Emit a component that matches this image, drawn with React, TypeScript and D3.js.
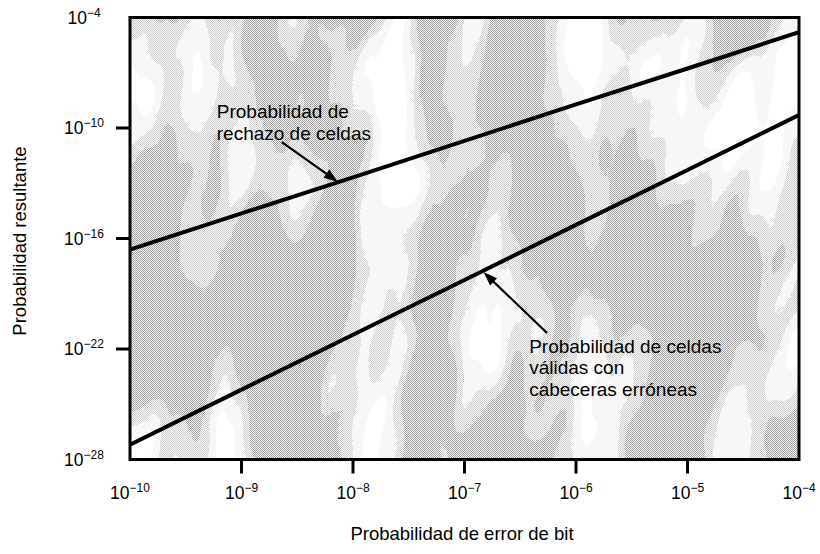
import React from "react";
import * as d3 from "d3";

// ---- data ----
const bitErrorProb = [1e-10, 1e-9, 1e-8, 1e-7, 1e-6, 1e-5, 1e-4];
const cellRejectionProb = [2.5e-17, 2.3e-15, 2.1e-13, 2.0e-11, 1.9e-9, 1.7e-7, 1.6e-5];
const validCellsWithErroredHeaders = [6.3e-28, 6.2e-25, 5.9e-22, 5.6e-19, 5.5e-16, 5.2e-13, 5.1e-10];
const xTickValues = [1e-10, 1e-9, 1e-8, 1e-7, 1e-6, 1e-5, 1e-4];
const yTickValues = [1e-28, 1e-22, 1e-16, 1e-10, 1e-4];
const xTitle = "Probabilidad de error de bit";
const yTitle = "Probabilidad resultante";
const label1Lines = ["Probabilidad de", "rechazo de celdas"];
const label2Lines = ["Probabilidad de celdas", "válidas con", "cabeceras erróneas"];
// annotation anchors in data space
const label1At = { x: 6.0e-10, y: 3.5e-10 };
const arrow1From = { x: 2.3e-9, y: 1.7e-11 };
const arrow1To = { x: 7.3e-9, y: 1.2e-13 };
const label2At = { x: 3.8e-7, y: 6.2e-23 };
const arrow2From = { x: 5.5e-7, y: 7.4e-22 };
const arrow2To = { x: 1.48e-7, y: 1.5e-18 };

const W = 820, H = 554;
const L = 130, R = 799, T = 17.5, B = 459.5;
const FONT = "'Liberation Sans', Arial, Helvetica, sans-serif";

function expLabel(v: number) {
  const e = Math.round(Math.log10(v));
  return "\u2212" + Math.abs(e);
}

export default function App() {
  const x = d3.scaleLog().domain([1e-10, 1e-4]).range([L, R]);
  const y = d3.scaleLog().domain([1e-28, 1e-4]).range([B, T]);
  const line = d3
    .line<[number, number]>()
    .x((d) => x(d[0]))
    .y((d) => y(d[1]));
  const s1 = bitErrorProb.map((v, i) => [v, cellRejectionProb[i]] as [number, number]);
  const s2 = bitErrorProb.map((v, i) => [v, validCellsWithErroredHeaders[i]] as [number, number]);

  const arrow = (from: { x: number; y: number }, to: { x: number; y: number }) => {
    const x1 = x(from.x), y1 = y(from.y), x2 = x(to.x), y2 = y(to.y);
    const ang = Math.atan2(y2 - y1, x2 - x1);
    const len = 14, half = 5;
    const bx = x2 - len * Math.cos(ang), by = y2 - len * Math.sin(ang);
    const p1 = [bx + half * Math.sin(ang), by - half * Math.cos(ang)];
    const p2 = [bx - half * Math.sin(ang), by + half * Math.cos(ang)];
    return (
      <g>
        <line x1={x1} y1={y1} x2={bx + 2 * Math.cos(ang)} y2={by + 2 * Math.sin(ang)} stroke="#000" strokeWidth={2.2} />
        <polygon points={`${x2},${y2} ${p1[0]},${p1[1]} ${p2[0]},${p2[1]}`} fill="#000" />
      </g>
    );
  };

  return (
    <svg
      width={W}
      height={H}
      style={{ position: "absolute", left: 0, top: 0, background: "#fff" }}
      fontFamily={FONT}
    >
      <defs>
        <pattern id="dots" width="2" height="2" patternUnits="userSpaceOnUse">
          <rect width="2" height="2" fill="#f4f4f4" />
          <rect width="1" height="1" fill="#a2a2a2" />
          <rect x="1" y="1" width="1" height="1" fill="#a2a2a2" />
        </pattern>
        <filter id="blobs" x="-200" y="-50" width="1300" height="600" filterUnits="userSpaceOnUse">
          <feTurbulence type="fractalNoise" baseFrequency="0.013 0.0048" numOctaves="3" seed="5" result="n" />
          <feColorMatrix
            in="n"
            type="matrix"
            values="0 0 0 0 1  0 0 0 0 1  0 0 0 0 1  1 0 0 0 0"
          />
          <feComponentTransfer>
            <feFuncA type="discrete" tableValues="0 0 0 0 0 0.45 0.85 1 1 1" />
          </feComponentTransfer>
        </filter>
        <clipPath id="plotClip">
          <rect x={L} y={T} width={R - L} height={B - T} />
        </clipPath>
      </defs>

      <rect x={L} y={T} width={R - L} height={B - T} fill="url(#dots)" />
      <g clipPath="url(#plotClip)">
        <g transform="skewX(-8)">
          <rect x={L - 20} y={T - 20} width={R - L + 120} height={B - T + 40} fill="#fff" filter="url(#blobs)" />
        </g>
      </g>

      <g clipPath="url(#plotClip)">
        <path d={line(s1) || ""} fill="none" stroke="#000" strokeWidth={4} />
        <path d={line(s2) || ""} fill="none" stroke="#000" strokeWidth={4} />
      </g>

      <rect x={L} y={T} width={R - L} height={B - T} fill="none" stroke="#000" strokeWidth={3} />

      {xTickValues.map((v) => (
        <g key={"x" + v}>
          {v !== 1e-10 && v !== 1e-4 && (
            <line x1={x(v)} x2={x(v)} y1={B} y2={B + 14} stroke="#000" strokeWidth={3} />
          )}
          <text x={x(v)} y={499} textAnchor="middle" fontSize={17.5} fill="#000">
            <tspan>10</tspan>
            <tspan dy={-7} fontSize={12}>{expLabel(v)}</tspan>
          </text>
        </g>
      ))}

      {yTickValues.map((v) => (
        <g key={"y" + v}>
          {v !== 1e-28 && v !== 1e-4 && (
            <line x1={L - 14} x2={L} y1={y(v)} y2={y(v)} stroke="#000" strokeWidth={3} />
          )}
          <text x={84} y={y(v) + 6} textAnchor="middle" fontSize={17.5} fill="#000">
            <tspan>10</tspan>
            <tspan dy={-7} fontSize={12}>{expLabel(v)}</tspan>
          </text>
        </g>
      ))}

      <text x={462} y={540} textAnchor="middle" fontSize={18.5} fill="#000">
        {xTitle}
      </text>
      <text
        transform={`translate(26, 241) rotate(-90)`}
        textAnchor="middle"
        fontSize={18.5}
        fill="#000"
      >
        {yTitle}
      </text>

      <text x={x(label1At.x)} y={y(label1At.y)} fontSize={19} fill="#000">
        {label1Lines.map((t, i) => (
          <tspan key={i} x={x(label1At.x)} dy={i === 0 ? 0 : 22}>
            {t}
          </tspan>
        ))}
      </text>
      {arrow(arrow1From, arrow1To)}

      <text x={x(label2At.x)} y={y(label2At.y)} fontSize={19} fill="#000">
        {label2Lines.map((t, i) => (
          <tspan key={i} x={x(label2At.x)} dy={i === 0 ? 0 : 21.5}>
            {t}
          </tspan>
        ))}
      </text>
      {arrow(arrow2From, arrow2To)}
    </svg>
  );
}
